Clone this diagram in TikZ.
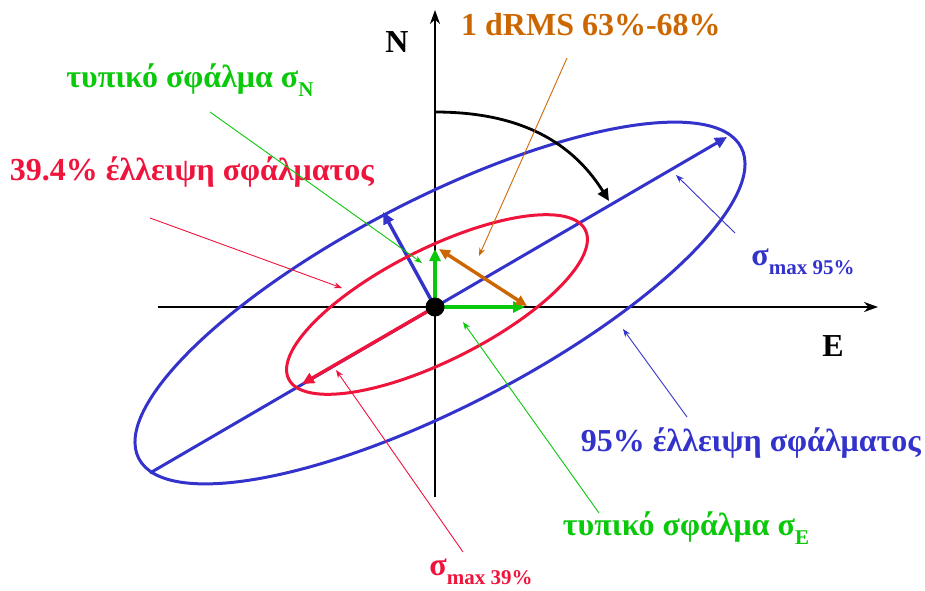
\documentclass[tikz,border=0pt]{standalone}
\usepackage{fontspec}
\setmainfont{Liberation Serif}
\usetikzlibrary{arrows.meta,positioning}
\definecolor{rojo}{RGB}{238,20,60}
\definecolor{verde}{RGB}{10,200,10}
\definecolor{azul}{RGB}{51,51,204}
\definecolor{naranja}{RGB}{204,102,0}
\newcommand{\subidx}[1]{\raisebox{-0.28em}{\fontsize{21}{21}\selectfont #1}}

\begin{document}
\begin{tikzpicture}[x=1pt,y=1pt,
    font=\fontsize{32}{35}\selectfont\bfseries,
    eje/.style={line width=2.8pt,-{Stealth[length=14pt,width=10pt]}},
    elipse/.style={line width=3pt},
    flecha/.style={-{Triangle[length=12pt,width=11pt]}},
    guia/.style={line width=0.9pt,-{Stealth[length=8pt,width=6pt]}},
    etiqueta/.style={inner sep=0pt}
]
\useasboundingbox (-435,-283) rectangle (490,307);

% ---- Ejes ----
\coordinate (O) at (0,0);
\coordinate (Eizq) at (-277,0);
\coordinate (Eder) at (443,0);
\coordinate (Nabj) at (0,-190);
\coordinate (Narr) at (0,297);
\draw[eje] (Eizq) -- (Eder);
\draw[eje] (Nabj) -- (Narr);
\node[etiqueta] (N) at (-38,265) {N};
\node[etiqueta] (E) at (398,-39) {E};

% ---- Elipse 95% ----
\coordinate (cA) at (5,4);
\coordinate (mayA1) at (-285,-166);
\coordinate (mayA2) at (292,170);
\coordinate (menA) at (-52,95);
\draw[elipse, azul, rotate around={27.3:(cA)}] (cA) ellipse [x radius=339pt, y radius=104pt];
\draw[elipse, azul, flecha] (mayA1) -- (mayA2);
\draw[line width=3.4pt, azul, flecha] (O) -- (menA);

% giro
\coordinate (giroA) at (0,195);
\coordinate (giroB) at (174,106);
\draw[line width=2.8pt, flecha] (giroA) to[out=0, in=122] (giroB);

% ---- Elipse 39.4% ----
\coordinate (cR) at (2,2.5);
\coordinate (mayR) at (-133,-77);
\draw[elipse, rojo, rotate around={26.7:(cR)}] (cR) ellipse [x radius=166pt, y radius=56pt];
\draw[line width=3.4pt, rojo, flecha] (O) -- (mayR);

% ---- Errores tipicos y dRMS ----
\coordinate (sE) at (90,0);
\coordinate (sN) at (0,58);
\coordinate (dA) at (4,58);
\coordinate (dB) at (92,1);
\draw[line width=4.5pt, verde, flecha] (O) -- (sE);
\draw[line width=4.5pt, verde, flecha] (O) -- (sN);
\draw[line width=3.4pt, naranja, {Triangle[length=11pt,width=10pt]}-{Triangle[length=11pt,width=10pt]}] (dA) -- (dB);
\fill (O) circle (9.5pt);

% ---- Etiquetas ----
\node[etiqueta, naranja] (dRMS) at (156,282) {1 dRMS 63\%-68\%};
\node[etiqueta, verde] (tN) at (-245,227) {τυπικό σφάλμα σ\subidx{N}};
\node[etiqueta, rojo] (e39) at (-243,135) {39.4\% έλλειψη σφάλματος};
\node[etiqueta, azul] (m95) at (368,45) {σ\subidx{max 95\%}};
\node[etiqueta, azul] (e95) at (316,-136) {95\% έλλειψη σφάλματος};
\node[etiqueta, verde] (tE) at (251,-221) {τυπικό σφάλμα σ\subidx{E}};
\node[etiqueta, rojo] (m39) at (46,-265) {σ\subidx{max 39\%}};

% Guias
\coordinate (gD1) at (132,249);   \coordinate (gD2) at (44,51);
\coordinate (gN1) at (-225,195);  \coordinate (gN2) at (-13,44);
\coordinate (gR1) at (-285,89);   \coordinate (gR2) at (-93,19);
\coordinate (gM1) at (300,74);    \coordinate (gM2) at (241,132);
\coordinate (gA1) at (252,-110);  \coordinate (gA2) at (188,-22);
\coordinate (gE1) at (164,-206);  \coordinate (gE2) at (28,-15);
\coordinate (gS1) at (28,-245);   \coordinate (gS2) at (-99,-63);
\draw[guia, naranja] (gD1) -- (gD2);
\draw[guia, verde] (gN1) -- (gN2);
\draw[guia, rojo] (gR1) -- (gR2);
\draw[guia, azul] (gM1) -- (gM2);
\draw[guia, azul] (gA1) -- (gA2);
\draw[guia, verde] (gE1) -- (gE2);
\draw[guia, rojo] (gS1) -- (gS2);

\end{tikzpicture}
\end{document}
